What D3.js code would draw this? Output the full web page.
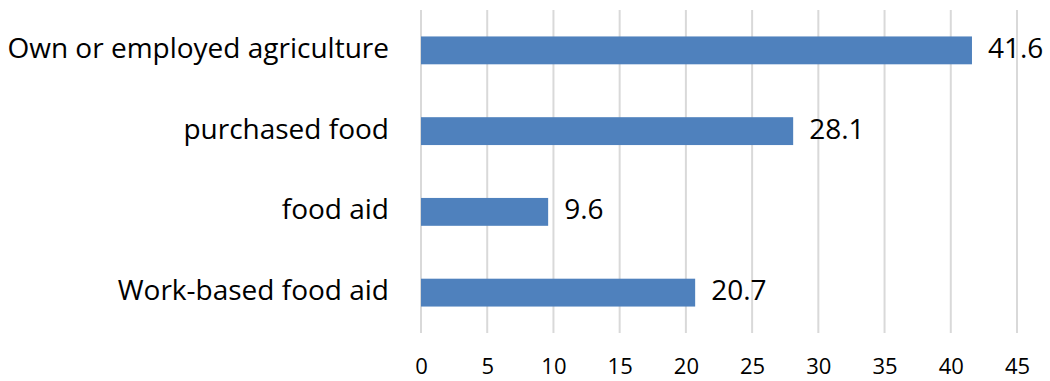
<!DOCTYPE html>
<html>
<head>
<meta charset="utf-8">
<script src="https://cdn.jsdelivr.net/npm/d3@7"></script>
<style>
  html, body { margin: 0; padding: 0; background: #fff; }
  svg text { font-family: "Open Sans", "Noto Sans", sans-serif; fill: #000; }
</style>
</head>
<body>
<svg id="chart" width="1050" height="381"></svg>
<script>
// Food sources, shares in percent
const categories = ["Own or employed agriculture", "purchased food", "food aid", "Work-based food aid"];
const values = [41.6, 28.1, 9.6, 20.7];
const tickValues = [0, 5, 10, 15, 20, 25, 30, 35, 40, 45];

const svg = d3.select("#chart");
const margin = { top: 10, right: 33, bottom: 48, left: 421 };
const width = 1050 - margin.left - margin.right;
const height = 381 - margin.top - margin.bottom;

const x = d3.scaleLinear().domain([0, 45]).range([0, width]);
const y = d3.scaleBand().domain(categories).range([0, height]).paddingInner(0.655).paddingOuter(0.3275);

const g = svg.append("g").attr("transform", `translate(${margin.left},${margin.top})`);

// vertical gridlines
g.selectAll("line.grid").data(tickValues).join("line")
  .attr("class", "grid")
  .attr("x1", d => x(d)).attr("x2", d => x(d))
  .attr("y1", 0).attr("y2", height)
  .attr("stroke", "#d9d9d9").attr("stroke-width", 2);

// x axis labels
const xAxis = d3.axisBottom(x).tickValues(tickValues).tickSize(0).tickPadding(0).tickFormat(d3.format("d"));
const ax = g.append("g").attr("transform", `translate(0,${height})`).call(xAxis);
ax.select(".domain").remove();
ax.selectAll("text").attr("font-size", 22).attr("dy", null).attr("y", 35)
  .attr("dominant-baseline", "middle").style("font-family", "'Open Sans', sans-serif");

// category labels
const yAxis = d3.axisLeft(y).tickSize(0).tickPadding(32);
const ay = g.append("g").call(yAxis);
ay.select(".domain").remove();
ay.selectAll("text").attr("font-size", 28).attr("dy", null)
  .attr("dominant-baseline", "middle").style("font-family", "'Open Sans', sans-serif");

// bars
g.selectAll("rect.bar").data(categories).join("rect")
  .attr("class", "bar")
  .attr("x", x(0))
  .attr("y", d => y(d))
  .attr("width", (d, i) => x(values[i]) - x(0))
  .attr("height", y.bandwidth())
  .attr("fill", "#4f81bd");

// value labels
g.selectAll("text.val").data(categories).join("text")
  .attr("class", "val")
  .attr("x", (d, i) => x(values[i]) + 16)
  .attr("y", d => y(d) + y.bandwidth() / 2)
  .attr("dominant-baseline", "middle")
  .attr("font-size", 28)
  .text((d, i) => values[i].toFixed(1));
</script>
</body>
</html>
